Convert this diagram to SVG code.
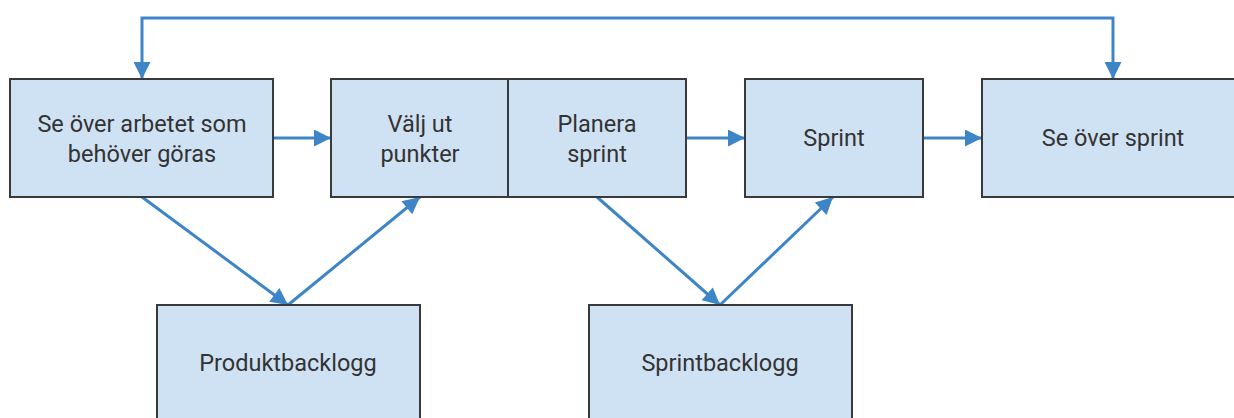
<svg xmlns="http://www.w3.org/2000/svg" width="1234" height="418" viewBox="0 0 1234 418">
  <style>
    .box { fill: #cfe2f3; stroke: #3a3a3a; stroke-width: 2; }
    .lbl { font-family: Roboto, "Liberation Sans", sans-serif; font-size: 23.5px; fill: #333333; text-anchor: middle; dominant-baseline: central; }
    .wire { fill: none; stroke: #3d85c6; stroke-width: 3; marker-end: url(#head); }
    .both { marker-start: url(#head); }
  </style>
  <defs>
    <marker id="head" viewBox="0 0 10 10" refX="10" refY="5" markerUnits="userSpaceOnUse" markerWidth="21" markerHeight="17" orient="auto-start-reverse">
      <path d="M0,0 L10,5 L0,10 Z" fill="#3d85c6"/>
    </marker>
  </defs>
  <rect width="1234" height="418" fill="#ffffff"/>

  <g id="connectors">
    <!-- feedback loop between the two review steps, arrowheads at both ends -->
    <path class="wire both" d="M142,79 V18 H1113 V79"/>
    <path class="wire" d="M273,138 H331"/>
    <path class="wire" d="M686,138 H745"/>
    <path class="wire" d="M923,138 H982"/>
    <path class="wire" d="M142,197 L288,305"/>
    <path class="wire" d="M288,305 L420,197"/>
    <path class="wire" d="M597,197 L720,305"/>
    <path class="wire" d="M720,305 L833,197"/>
  </g>

  <g id="review-work">
    <rect class="box" x="10" y="79" width="263" height="118"/>
    <text class="lbl" x="142" y="124">Se över arbetet som</text>
    <text class="lbl" x="142" y="154">behöver göras</text>
  </g>
  <g id="select-items">
    <rect class="box" x="331" y="79" width="177" height="118"/>
    <text class="lbl" x="420" y="124">Välj ut</text>
    <text class="lbl" x="420" y="154">punkter</text>
  </g>
  <g id="plan-sprint">
    <rect class="box" x="508" y="79" width="178" height="118"/>
    <text class="lbl" x="597" y="124">Planera</text>
    <text class="lbl" x="597" y="154">sprint</text>
  </g>
  <g id="sprint">
    <rect class="box" x="745" y="79" width="178" height="118"/>
    <text class="lbl" x="834" y="138">Sprint</text>
  </g>
  <g id="sprint-review">
    <rect class="box" x="982" y="79" width="262" height="118"/>
    <text class="lbl" x="1113" y="138">Se över sprint</text>
  </g>
  <g id="product-backlog">
    <rect class="box" x="157" y="305" width="263" height="130"/>
    <text class="lbl" x="288" y="363">Produktbacklogg</text>
  </g>
  <g id="sprint-backlog">
    <rect class="box" x="589" y="305" width="263" height="130"/>
    <text class="lbl" x="720" y="363">Sprintbacklogg</text>
  </g>
</svg>
